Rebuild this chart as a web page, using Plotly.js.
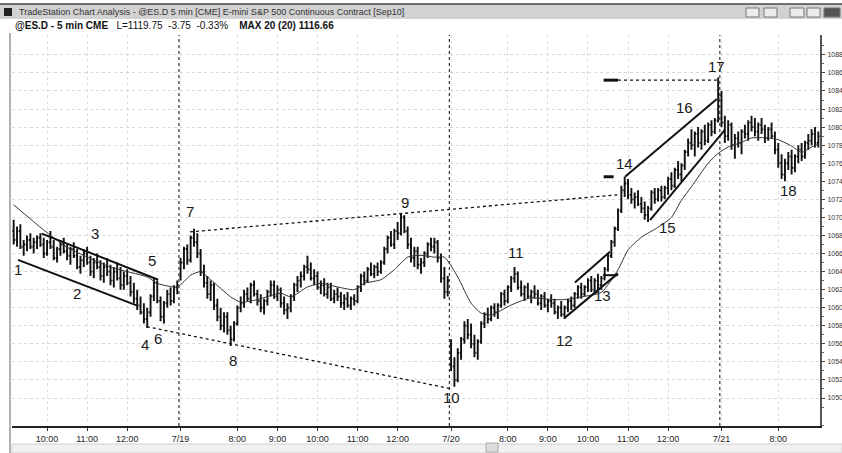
<!DOCTYPE html>
<html><head><meta charset="utf-8">
<script src="https://cdn.plot.ly/plotly-3.0.1.min.js"></script>
<style>html,body{margin:0;padding:0;background:#fff;overflow:hidden}#chart{width:842px;height:453px}</style>
</head><body><div id="chart"></div>
<script>
// ---- sessions (bar close times, 5 min) ----
const sessionDates = ['7/16', '7/19', '7/20', '7/21'];
const sessionFirst = ['09:10', '06:35', '06:35', '06:35'];
const sessionLast  = ['13:15', '13:15', '13:15', '09:00'];

// ---- OHLC values, read bar by bar ----
const openP = [
 // 7/16
 1068.5,1067.5,1068.5,1066.75,1067.0,1067.5,1066.75,1067.25,1067.75,1067.0,
 1066.0,1067.25,1066.75,1065.5,1066.5,1067.0,1066.25,1065.75,1066.5,1065.75,
 1064.5,1065.25,1066.0,1065.0,1064.0,1065.0,1064.5,1063.5,1064.5,1064.0,
 1063.0,1064.0,1063.25,1062.5,1063.5,1062.75,1061.75,1061.0,1060.25,1059.5,
 1058.75,1059.5,1061.25,1062.75,1060.75,1059.0,1060.5,1061.5,1060.75,1062.25,
 // 7/19
 1063.5,1065.0,1066.5,1065.25,1067.75,1067.25,1066.0,1064.0,1062.75,1061.5,
 1062.5,1060.25,1059.0,1058.0,1059.0,1057.5,1056.5,1058.25,1060.0,1060.5,
 1061.5,1061.0,1062.5,1061.5,1060.75,1060.0,1060.75,1061.75,1062.5,1061.25,
 1062.0,1060.5,1059.75,1060.0,1061.25,1062.5,1063.0,1063.5,1064.5,1064.25,
 1063.25,1063.5,1062.25,1062.5,1061.5,1062.25,1061.0,1061.5,1061.25,1060.5,
 1061.0,1060.25,1061.0,1060.75,1062.25,1063.5,1063.0,1064.25,1063.75,1064.5,
 1064.0,1065.0,1066.5,1067.75,1067.0,1068.5,1068.25,1070.0,1068.5,1067.0,
 1065.5,1066.25,1064.75,1065.0,1066.0,1067.0,1066.75,1067.25,1065.5,1063.25,
 1061.75,
 // 7/20
 1056.0,1053.5,1052.0,1055.0,1056.5,1058.0,1057.0,1056.0,1055.0,1056.25,
 1058.25,1059.25,1058.75,1060.0,1059.5,1060.25,1061.5,1060.75,1062.25,1063.25,
 1063.75,1062.25,1061.5,1062.25,1061.25,1061.75,1061.5,1060.5,1061.25,1060.25,
 1060.75,1060.5,1059.5,1060.0,1059.25,1060.0,1060.75,1060.25,1061.5,1062.25,
 1061.5,1062.25,1063.0,1062.0,1063.0,1062.5,1063.25,1064.25,1065.75,1067.25,
 1068.75,1070.75,1073.0,1073.75,1072.5,1072.0,1072.25,1071.5,1071.0,1070.25,
 1071.0,1072.75,1072.0,1073.0,1072.25,1073.25,1074.25,1073.5,1075.25,1074.75,
 1075.75,1077.25,1078.25,1078.0,1079.25,1078.25,1079.5,1078.5,1080.25,1079.5,
 1080.75,
 // 7/21
 1083.5,1080.5,1079.0,1080.25,1078.0,1078.75,1078.25,1079.5,1079.25,1080.5,
 1080.0,1079.5,1080.25,1079.75,1078.75,1079.75,1079.0,1077.5,1076.0,1074.75,
 1076.0,1076.75,1075.5,1076.75,1077.5,1076.75,1078.25,1078.5,1079.25,1078.25
];
const highP = [
 1069.75,1069.0,1069.25,1067.5,1068.0,1068.25,1067.75,1068.0,1068.25,1067.75,
 1067.5,1068.5,1067.5,1066.75,1067.5,1067.75,1067.0,1066.75,1067.25,1066.5,
 1065.75,1066.5,1066.75,1065.75,1065.5,1066.0,1065.25,1065.0,1065.5,1064.75,
 1064.5,1065.0,1064.5,1064.0,1064.25,1063.5,1062.75,1062.0,1061.25,1060.5,
 1060.0,1061.5,1063.25,1063.0,1061.25,1060.75,1062.0,1062.25,1062.5,1063.0,
 1065.5,1066.75,1067.0,1068.0,1068.75,1068.25,1066.5,1064.75,1063.5,1063.0,
 1062.75,1061.0,1060.0,1059.5,1059.5,1058.0,1058.5,1060.25,1061.25,1062.0,
 1062.25,1062.75,1063.0,1062.0,1061.5,1061.0,1062.0,1063.0,1063.0,1062.5,
 1062.25,1061.25,1060.5,1061.5,1062.75,1063.5,1064.0,1064.75,1065.75,1065.0,
 1064.25,1064.0,1063.0,1063.25,1062.75,1062.75,1062.0,1062.25,1061.75,1061.5,
 1061.75,1061.25,1061.5,1062.5,1063.75,1064.0,1064.5,1065.0,1064.75,1065.0,
 1065.25,1066.75,1068.0,1068.5,1068.75,1069.5,1070.5,1070.25,1069.0,1067.75,
 1066.75,1066.75,1065.5,1066.25,1067.25,1067.75,1067.75,1067.5,1066.0,1064.5,
 1063.5,
 1056.5,1054.5,1055.5,1056.75,1058.5,1058.75,1058.25,1057.0,1056.5,1058.5,
 1059.5,1060.0,1060.25,1060.5,1060.5,1061.75,1062.0,1062.5,1063.5,1064.5,
 1064.0,1063.0,1062.5,1062.75,1062.0,1062.5,1062.0,1061.5,1061.75,1061.0,
 1061.5,1061.0,1060.25,1060.75,1060.25,1061.0,1061.25,1061.75,1062.5,1062.75,
 1062.5,1063.25,1063.5,1063.25,1063.75,1063.5,1064.5,1066.0,1067.5,1069.0,
 1071.0,1073.5,1074.5,1074.25,1073.25,1072.75,1073.0,1072.25,1071.75,1071.25,
 1073.0,1073.25,1073.25,1073.5,1073.5,1074.5,1075.0,1075.5,1076.25,1076.0,
 1077.5,1078.75,1079.75,1079.5,1080.0,1079.75,1080.25,1080.5,1080.75,1081.0,
 1085.5,
 1084.0,1081.25,1080.75,1080.5,1079.25,1079.5,1079.75,1080.25,1080.75,1081.25,
 1081.0,1080.5,1081.0,1080.25,1080.0,1080.5,1079.5,1078.25,1077.0,1076.5,
 1077.25,1077.5,1077.0,1078.0,1078.25,1078.5,1079.25,1079.75,1080.0,1079.5
];
const lowP = [
 1067.0,1066.75,1066.5,1065.75,1066.25,1066.5,1066.0,1066.5,1066.75,1065.5,
 1065.75,1066.5,1065.25,1065.0,1065.75,1066.0,1065.25,1064.75,1065.5,1064.25,
 1063.75,1064.5,1064.75,1063.5,1063.25,1064.25,1063.0,1062.75,1063.5,1062.5,
 1062.25,1063.0,1062.0,1062.0,1062.5,1061.25,1060.5,1059.75,1059.25,1058.25,
 1057.75,1059.0,1060.75,1060.5,1058.5,1058.25,1060.0,1060.25,1060.5,1061.5,
 1063.0,1064.25,1064.75,1065.0,1066.75,1065.5,1063.5,1062.25,1061.0,1060.75,
 1059.75,1058.5,1057.5,1057.25,1057.0,1055.75,1056.25,1058.0,1059.5,1060.0,
 1060.75,1060.5,1061.25,1060.25,1059.5,1059.25,1060.25,1061.25,1061.0,1060.75,
 1060.0,1059.25,1058.75,1059.5,1060.75,1061.75,1062.25,1063.0,1063.75,1063.0,
 1062.5,1062.0,1061.5,1061.25,1061.0,1060.75,1060.5,1060.75,1060.0,1059.75,
 1060.0,1059.75,1060.25,1060.5,1061.75,1062.5,1062.75,1063.5,1063.25,1063.5,
 1063.75,1064.75,1066.0,1066.75,1066.5,1067.5,1068.0,1068.25,1066.5,1065.0,
 1064.5,1064.25,1063.75,1064.5,1065.5,1066.25,1066.0,1065.0,1062.75,1061.0,
 1061.25,
 1053.0,1051.25,1051.75,1054.25,1056.0,1056.5,1055.5,1054.5,1054.25,1056.0,
 1057.75,1058.25,1058.5,1059.0,1058.75,1060.0,1060.25,1060.5,1061.75,1062.75,
 1062.0,1061.25,1060.75,1061.0,1060.5,1061.0,1060.25,1059.75,1060.0,1059.5,
 1060.0,1059.25,1058.75,1059.0,1058.75,1059.5,1059.75,1060.0,1061.0,1061.0,
 1061.25,1061.75,1061.75,1061.5,1062.0,1062.0,1063.0,1064.0,1065.5,1066.75,
 1068.5,1070.5,1072.25,1072.0,1071.5,1071.0,1071.25,1070.5,1069.75,1069.5,
 1070.75,1071.5,1071.75,1071.75,1072.0,1072.5,1073.0,1073.25,1074.25,1074.0,
 1075.25,1076.75,1077.5,1076.75,1077.75,1077.5,1078.0,1078.25,1079.0,1079.25,
 1080.5,
 1080.0,1078.25,1078.5,1077.5,1076.5,1077.75,1077.0,1078.75,1078.5,1079.5,
 1079.0,1078.5,1079.25,1078.25,1078.5,1078.75,1077.0,1075.5,1074.25,1074.0,
 1075.25,1074.75,1075.0,1076.0,1076.25,1076.5,1077.5,1078.0,1077.75,1077.75
];
const closeP = [
 1067.5,1068.5,1066.75,1067.0,1067.5,1066.75,1067.25,1067.75,1067.0,1066.0,
 1067.25,1066.75,1065.5,1066.5,1067.0,1066.25,1065.75,1066.5,1065.75,1064.5,
 1065.25,1066.0,1065.0,1064.0,1065.0,1064.5,1063.5,1064.5,1064.0,1063.0,
 1064.0,1063.25,1062.5,1063.5,1062.75,1061.75,1061.0,1060.25,1059.5,1058.75,
 1059.5,1061.25,1062.75,1060.75,1059.0,1060.5,1061.5,1060.75,1062.25,1062.5,
 1065.0,1066.5,1065.25,1067.75,1067.25,1066.0,1064.0,1062.75,1061.5,1062.5,
 1060.25,1059.0,1058.0,1059.0,1057.5,1056.5,1058.25,1060.0,1060.5,1061.5,
 1061.0,1062.5,1061.5,1060.75,1060.0,1060.75,1061.75,1062.5,1061.25,1062.0,
 1060.5,1059.75,1060.0,1061.25,1062.5,1063.0,1063.5,1064.5,1064.25,1063.25,
 1063.5,1062.25,1062.5,1061.5,1062.25,1061.0,1061.5,1061.25,1060.5,1061.0,
 1060.25,1061.0,1060.75,1062.25,1063.5,1063.0,1064.25,1063.75,1064.5,1064.0,
 1065.0,1066.5,1067.75,1067.0,1068.5,1068.25,1070.0,1068.5,1067.0,1065.5,
 1066.25,1064.75,1065.0,1066.0,1067.0,1066.75,1067.25,1065.5,1063.25,1061.75,
 1063.0,
 1053.5,1052.0,1055.0,1056.5,1058.0,1057.0,1056.0,1055.0,1056.25,1058.25,
 1059.25,1058.75,1060.0,1059.5,1060.25,1061.5,1060.75,1062.25,1063.25,1063.75,
 1062.25,1061.5,1062.25,1061.25,1061.75,1061.5,1060.5,1061.25,1060.25,1060.75,
 1060.5,1059.5,1060.0,1059.25,1060.0,1060.75,1060.25,1061.5,1062.25,1061.5,
 1062.25,1063.0,1062.0,1063.0,1062.5,1063.25,1064.25,1065.75,1067.25,1068.75,
 1070.75,1073.0,1073.75,1072.5,1072.0,1072.25,1071.5,1071.0,1070.25,1071.0,
 1072.75,1072.0,1073.0,1072.25,1073.25,1074.25,1073.5,1075.25,1074.75,1075.75,
 1077.25,1078.25,1078.0,1079.25,1078.25,1079.5,1078.5,1080.25,1079.5,1080.75,
 1083.25,
 1080.5,1079.0,1080.25,1078.0,1078.75,1078.25,1079.5,1079.25,1080.5,1080.0,
 1079.5,1080.25,1079.75,1078.75,1079.75,1079.0,1077.5,1076.0,1074.75,1076.0,
 1076.75,1075.5,1076.75,1077.5,1076.75,1078.25,1078.5,1079.25,1078.25,1079.0
];

// ---- 20-bar moving average (bar number, value) ----
const maBar = [0,9,16,29,40,43,49,53,56,59,65,68,73,80,83,88,92,97,102,105,110,114,118,122,126,129,
  133,137,140,143,149,155,161,165,170,176,181,184,188,193,197,200,203,208,211,214,218,221,226,229,233,236,239,241];
const maValue = [1071.4,1068.6,1066.7,1064.5,1063.4,1062.7,1062.3,1063.6,1064.0,1063.1,1061.2,1060.6,1060.9,1061.6,1061.2,1062.3,1062.7,1062.3,1062.0,1062.7,1063.1,1064.2,1065.6,1065.8,1065.6,1065.6,
  1063.4,1060.5,1059.4,1059.2,1060.3,1061.1,1060.9,1060.9,1061.2,1061.7,1064.2,1066.4,1067.8,1068.9,1070.0,1071.9,1073.4,1076.0,1077.1,1077.8,1078.3,1078.8,1078.8,1078.6,1077.9,1077.2,1077.8,1078.1];

// ---- axis labels ----
const tickBars = ['7/16 10:00','7/16 11:00','7/16 12:00','7/19 06:35','7/19 08:00','7/19 09:00','7/19 10:00','7/19 11:00','7/19 12:00',
  '7/20 06:35','7/20 08:00','7/20 09:00','7/20 10:00','7/20 11:00','7/20 12:00','7/21 06:35','7/21 08:00'];
const tickLabels = ['10:00','11:00','12:00','7/19','8:00','9:00','10:00','11:00','12:00','7/20','8:00','9:00','10:00','11:00','12:00','7/21','8:00'];
const priceTicks = [1050,1052,1054,1056,1058,1060,1062,1064,1066,1068,1070,1072,1074,1076,1078,1080,1082,1084,1086,1088];

// ---- chart annotations: swing numbers (bar number, price) ----
const swingText  = ['1','2','3','4','5','6','7','8','9','10','11','12','13','14','15','16','17','18'];
const swingBar   = [1.3,19,24.4,39.3,41.4,43.2,52.8,65.7,117.2,131,150.4,165.1,176.5,182.8,195.7,200.8,210.6,232.2];
const swingPrice = [1064.2,1061.6,1068.2,1055.9,1065.2,1056.6,1070.7,1054.2,1071.7,1050.1,1066.1,1056.4,1061.4,1076.0,1068.9,1082.2,1086.7,1073.0];

// trend lines drawn on the chart: [bar0, price0, bar1, price1, style]
const trendLines = [
  [1.3,1065.3,37.2,1060.2,'solid'],
  [8.4,1068.2,43.3,1063.1,'solid'],
  [52.8,1068.4,181,1072.5,'dot'],
  [39.9,1057.9,131.3,1051.0,'dot'],
  [165.1,1058.9,181,1063.8,'solid'],
  [168.1,1062.8,178.6,1066.2,'solid'],
  [176.5,1063.6,181,1063.6,'solid'],
  [183.1,1074.5,210.6,1083.1,'solid'],
  [190.6,1069.7,213,1079.7,'solid'],
  [176.7,1074.5,179.7,1074.5,'thick'],
  [176.7,1085.2,181,1085.2,'thick'],
  [181,1085.2,210.6,1085.2,'dot']
];

// ---- build category times ----
function toMin(s){const p=s.split(':');return +p[0]*60+ +p[1];}
function fmt(m){const h=Math.floor(m/60),mm=m%60;return (h<10?'0':'')+h+':'+(mm<10?'0':'')+mm;}
const times=[]; const dayStartIdx=[];
sessionDates.forEach((d,k)=>{
  dayStartIdx.push(times.length);
  for(let m=toMin(sessionFirst[k]); m<=toMin(sessionLast[k]); m+=5) times.push(d+' '+fmt(m));
});

const L=12,R=820,T=35,B=426,W=842,H=453;
const px=x=>(x-L)/(R-L), py=y=>(B-y)/(B-T);

const shapes=[];
// day separators
dayStartIdx.slice(1).forEach(i=>shapes.push({type:'line',xref:'x',yref:'paper',x0:i-0.5,x1:i-0.5,y0:0,y1:1,
  line:{color:'#333',width:1.2,dash:'dot'}}));
trendLines.forEach(t=>{
  const st=t[4];
  shapes.push({type:'line',xref:'x',yref:'y',x0:t[0],y0:t[1],x1:t[2],y1:t[3],
    line:{color:'#111',width:st==='thick'?3:(st==='dot'?1.3:2),dash:st==='dot'?'dot':'solid'}});
});
// window chrome
shapes.push({type:'rect',xref:'paper',yref:'paper',x0:px(0),x1:px(W),y0:py(19),y1:py(4),fillcolor:'#d2d2d2',line:{width:0},layer:'below'});
shapes.push({type:'line',xref:'paper',yref:'paper',x0:px(0),x1:px(W),y0:py(4),y1:py(4),line:{color:'#444',width:1.5}});
shapes.push({type:'rect',xref:'paper',yref:'paper',x0:px(4),x1:px(12),y0:py(16),y1:py(8),fillcolor:'#222',line:{width:0}});
[[746,759],[764,777],[790,804],[807,820],[824,840]].forEach((b,k)=>shapes.push({type:'rect',xref:'paper',yref:'paper',
  x0:px(b[0]),x1:px(b[1]),y0:py(17),y1:py(8),fillcolor:k===4?'#555':'#ececec',line:{color:'#777',width:1}}));
shapes.push({type:'line',xref:'paper',yref:'paper',x0:px(10),x1:px(10),y0:py(453),y1:py(33),line:{color:'#999',width:1.5}});
shapes.push({type:'rect',xref:'paper',yref:'paper',x0:px(12),x1:px(W),y0:py(453),y1:py(444),fillcolor:'#f1f1f1',line:{color:'#d0d0d0',width:1}});
shapes.push({type:'rect',xref:'paper',yref:'paper',x0:px(486),x1:px(498),y0:py(452),y1:py(443),fillcolor:'#dcdcdc',line:{color:'#aaa',width:1}});

const annotations=swingText.map((t,k)=>({text:t,x:swingBar[k],y:swingPrice[k],xref:'x',yref:'y',showarrow:false,
  font:{family:'Liberation Sans, Arial, sans-serif',size:15,color:'#1a1a1a'}}));
annotations.push({text:'TradeStation Chart Analysis - @ES.D 5 min [CME] E-mini S&P 500 Continuous Contract [Sep10]',
  xref:'paper',yref:'paper',x:px(17),y:py(12),xanchor:'left',yanchor:'middle',showarrow:false,
  font:{family:'Liberation Sans, Arial, sans-serif',size:9,color:'#333'}});
annotations.push({text:'<b>@ES.D - 5 min CME</b>   L=1119.75  -3.75  -0.33%    <b>MAX 20 (20) 1116.66</b>',
  xref:'paper',yref:'paper',x:px(13),y:py(25),xanchor:'left',yanchor:'middle',showarrow:false,
  font:{family:'Liberation Sans, Arial, sans-serif',size:10,color:'#111'}});

const traces=[
 {type:'ohlc',x:times,open:openP,high:highP,low:lowP,close:closeP,tickwidth:0.4,
  increasing:{line:{color:'#111',width:1.9}},decreasing:{line:{color:'#111',width:1.9}},hoverinfo:'skip'},
 {type:'scatter',mode:'lines',x:maBar.map(i=>times[i]),y:maValue,line:{color:'#333',width:1,shape:'spline',smoothing:0.6},hoverinfo:'skip'}
];

const layout={
  width:W,height:H,margin:{l:L,r:W-R,t:T,b:H-B},paper_bgcolor:'#fff',plot_bgcolor:'#fff',showlegend:false,
  font:{family:'Liberation Sans, Arial, sans-serif'},
  xaxis:{type:'category',range:[-0.5,times.length-0.5],rangeslider:{visible:false},tickmode:'array',tickvals:tickBars,ticktext:tickLabels,
    tickangle:0,tickfont:{size:9,color:'#222'},ticks:'outside',ticklen:3,tickcolor:'#333',showline:true,linecolor:'#222',linewidth:2,
    showgrid:true,gridcolor:'#dedede',griddash:'dot',zeroline:false,fixedrange:true},
  yaxis:{side:'right',range:[1046.9,1090.2],tickmode:'array',tickvals:priceTicks,ticktext:priceTicks.map(String),
    tickfont:{size:7,color:'#333'},ticks:'outside',ticklen:3,ticklabelstandoff:1,tickcolor:'#444',showline:true,linecolor:'#555',linewidth:2,
    showgrid:true,gridcolor:'#d8d8d8',griddash:'dot',zeroline:false,
    minor:{tickmode:'linear',tick0:1047,dtick:2,ticks:'outside',ticklen:2,tickcolor:'#666',showgrid:false}},
  shapes:shapes,annotations:annotations
};
Plotly.newPlot('chart',traces,layout,{staticPlot:true,displayModeBar:false});
</script></body></html>
